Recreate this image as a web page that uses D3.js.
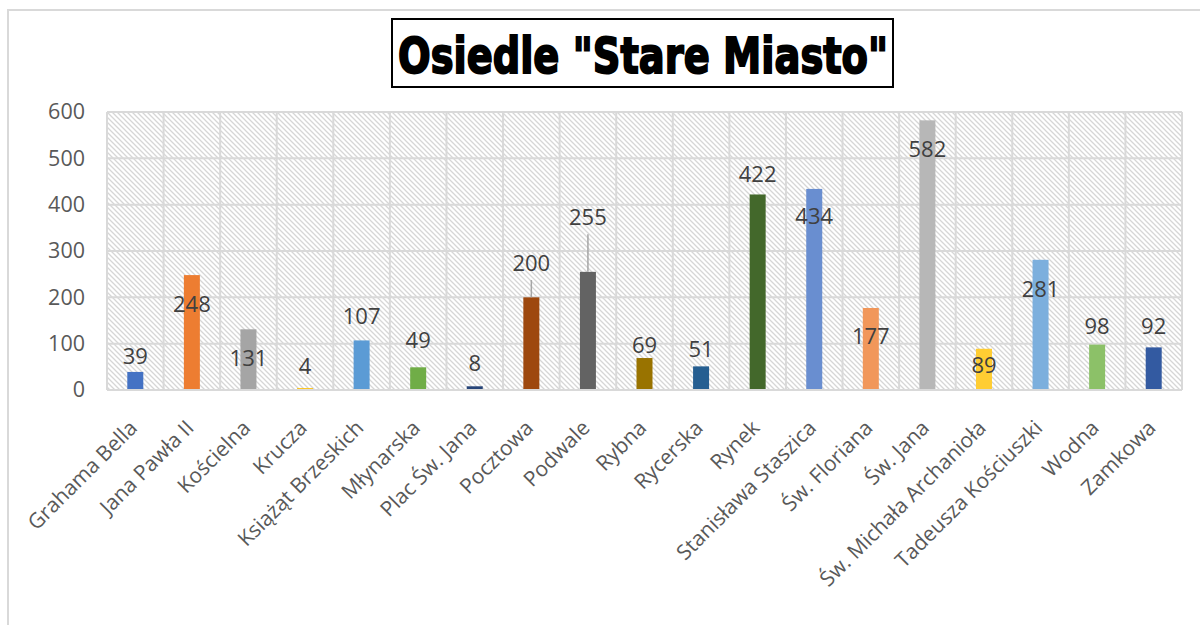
<!DOCTYPE html>
<html>
<head>
<meta charset="utf-8">
<script src="https://cdn.jsdelivr.net/npm/d3@7"></script>
<style>
  body { margin: 0; background: #fff; }
  svg { display: block; }
</style>
</head>
<body>
<svg id="chart" width="1200" height="625"></svg>
<script>
let streets = ["Grahama Bella", "Jana Pawła II", "Kościelna", "Krucza", "Książąt Brzeskich",
  "Młynarska", "Plac Św. Jana", "Pocztowa", "Podwale", "Rybna", "Rycerska", "Rynek",
  "Stanisława Staszica", "Św. Floriana", "Św. Jana", "Św. Michała Archanioła",
  "Tadeusza Kościuszki", "Wodna", "Zamkowa"];
let counts = [39, 248, 131, 4, 107, 49, 8, 200, 255, 69, 51, 422, 434, 177, 582, 89, 281, 98, 92];
let barColors = ["#4472c4", "#ed7d31", "#a5a5a5", "#ffc000", "#5b9bd5", "#70ad47", "#264478",
  "#9e480e", "#636363", "#997300", "#255e91", "#43682b", "#698ed0", "#f1975a", "#b7b7b7",
  "#ffcd33", "#7cafdd", "#8cc168", "#335aa1"];
// where Excel put each data label (in axis units)
let labelAt = [73, 186, 69, 52, 160, 108, 58, 274, 373, 96, 89, 465, 375, 116, 519, 53, 218, 137, 137];
let yTicks = [0, 100, 200, 300, 400, 500, 600];

let svg = d3.select("#chart");
let plotLeft = 107, plotRight = 1182, plotTop = 112, plotBottom = 390;

// outer chart frame (runs off the picture on the right and bottom)
svg.append("rect")
  .attr("x", 8).attr("y", 10)
  .attr("width", 1300).attr("height", 700)
  .attr("fill", "#fff")
  .attr("stroke", "#d9d9d9")
  .attr("stroke-width", 2);

// hatched plot background
let defs = svg.append("defs");
defs.append("pattern")
  .attr("id", "hatch")
  .attr("patternUnits", "userSpaceOnUse")
  .attr("width", 5).attr("height", 5)
  .append("path")
  .attr("d", "M0,0 L5,5 M-1,4 L1,6 M4,-1 L6,1")
  .attr("stroke", "#d6d6d6")
  .attr("stroke-width", 1.3);

let x = d3.scaleBand().domain(streets).range([plotLeft, plotRight]);
let y = d3.scaleLinear().domain([0, 600]).range([plotBottom, plotTop]);

svg.append("rect")
  .attr("x", plotLeft).attr("y", plotTop)
  .attr("width", plotRight - plotLeft).attr("height", plotBottom - plotTop)
  .attr("fill", "url(#hatch)");

// grid
svg.append("g")
  .selectAll("line")
  .data(yTicks)
  .enter()
  .append("line")
  .attr("x1", plotLeft).attr("x2", plotRight)
  .attr("y1", (d) => y(d)).attr("y2", (d) => y(d))
  .attr("stroke", "#d9d9d9")
  .attr("stroke-width", 2);

svg.append("g")
  .selectAll("line")
  .data(streets.concat(["end"]))
  .enter()
  .append("line")
  .attr("x1", (d, i) => plotLeft + i * x.step())
  .attr("x2", (d, i) => plotLeft + i * x.step())
  .attr("y1", plotTop).attr("y2", plotBottom)
  .attr("stroke", "#d9d9d9")
  .attr("stroke-width", 2);

// y axis labels
let yAxis = svg.append("g")
  .attr("transform", "translate(" + (plotLeft - 22) + ",0)")
  .call(d3.axisLeft(y).tickValues(yTicks).tickSize(0).tickPadding(0));
yAxis.select(".domain").remove();
yAxis.selectAll("text")
  .attr("font-family", "Open Sans")
  .attr("font-size", 21.5)
  .attr("fill", "#595959");

// bars
let barW = 16;
svg.append("g")
  .selectAll("rect")
  .data(counts)
  .enter()
  .append("rect")
  .attr("x", (d, i) => x(streets[i]) + x.bandwidth() / 2 - barW / 2)
  .attr("y", (d) => y(d))
  .attr("width", barW)
  .attr("height", (d) => y(0) - y(d))
  .attr("fill", (d, i) => barColors[i]);

// leader lines for labels pulled well above their bars
svg.append("g")
  .selectAll("line")
  .data(counts.map((d, i) => i).filter((i) => y(counts[i]) - y(labelAt[i]) > 30))
  .enter()
  .append("line")
  .attr("x1", (i) => x(streets[i]) + x.bandwidth() / 2)
  .attr("x2", (i) => x(streets[i]) + x.bandwidth() / 2)
  .attr("y1", (i) => y(labelAt[i]) + 17)
  .attr("y2", (i) => y(counts[i]))
  .attr("stroke", "#a6a6a6")
  .attr("stroke-width", 1.5);

// data labels
svg.append("g")
  .selectAll("text")
  .data(counts)
  .enter()
  .append("text")
  .attr("x", (d, i) => x(streets[i]) + x.bandwidth() / 2)
  .attr("y", (d, i) => y(labelAt[i]))
  .attr("dy", "0.36em")
  .attr("text-anchor", "middle")
  .attr("font-family", "Open Sans")
  .attr("font-size", 22)
  .attr("fill", "#404040")
  .text((d) => d);

// x axis line
svg.append("line")
  .attr("x1", plotLeft).attr("x2", plotRight)
  .attr("y1", plotBottom).attr("y2", plotBottom)
  .attr("stroke", "#d9d9d9")
  .attr("stroke-width", 2);

// category labels, rotated
svg.append("g")
  .selectAll("text")
  .data(streets)
  .enter()
  .append("text")
  .attr("transform", (d) => "translate(" + (x(d) + x.bandwidth() / 2 - 2) + "," + (plotBottom + 34) + ") rotate(-45)")
  .attr("text-anchor", "end")
  .attr("dy", "0.35em")
  .attr("font-family", "Open Sans")
  .attr("font-size", 21)
  .attr("fill", "#595959")
  .text((d) => d);

// title box
svg.append("rect")
  .attr("x", 392).attr("y", 19)
  .attr("width", 501).attr("height", 68)
  .attr("fill", "#fff")
  .attr("stroke", "#000")
  .attr("stroke-width", 2);

svg.append("text")
  .attr("x", 398).attr("y", 73)
  .attr("textLength", 490)
  .attr("lengthAdjust", "spacingAndGlyphs")
  .attr("font-family", "DejaVu Sans")
  .attr("font-weight", "bold")
  .attr("font-size", 50)
  .attr("fill", "#000")
  .attr("stroke", "#000")
  .attr("stroke-width", 2)
  .text('Osiedle "Stare Miasto"');
</script>
</body>
</html>
